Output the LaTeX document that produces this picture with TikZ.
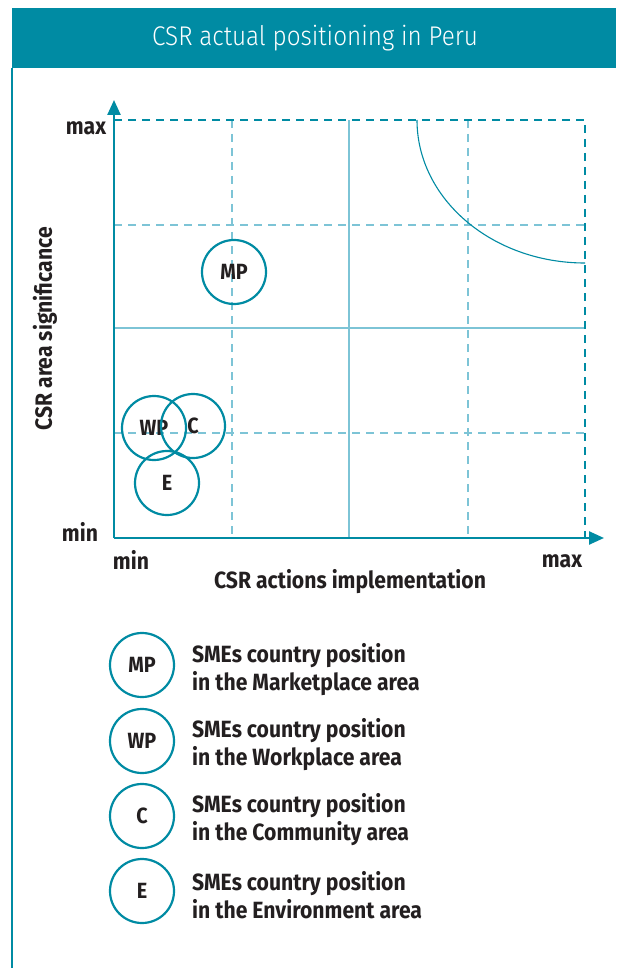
\documentclass[tikz,border=0pt]{standalone}
\usepackage{fontspec}
\setmainfont{Fira Sans}[FakeStretch=0.9]
\newfontfamily\titlefont{Fira Sans Light}[FakeStretch=0.9]
\usetikzlibrary{arrows.meta}
\definecolor{teal1}{HTML}{008BA3}
\definecolor{teallight}{HTML}{7DC4D6}
\definecolor{inkgray}{HTML}{231F20}
\begin{document}
\begin{tikzpicture}[x=1pt,y=-1pt,
  axisline/.style={line width=2.4pt,teal1,-{Triangle[length=15pt,width=13pt]}},
  darkdash/.style={line width=2.4pt,teal1,dash pattern=on 8pt off 6pt},
  lightdash/.style={line width=2pt,teallight,dash pattern=on 8pt off 6pt},
  lightsolid/.style={line width=1.6pt,teallight},
  posbubble/.style={circle,draw=teal1,line width=2.2pt,minimum size=64pt,inner sep=0pt,
    font=\fontsize{22}{22}\selectfont\bfseries,text=inkgray},
  lbl/.style={font=\fontsize{23.5}{24}\selectfont\bfseries,text=inkgray,inner sep=0pt},
  legtext/.style={font=\fontsize{23.5}{28}\selectfont\bfseries,text=inkgray,
    align=left,anchor=west,inner sep=0pt}]
\useasboundingbox (0,0) rectangle (616,968);
\fill[white] (0,0) rectangle (616,968);

% header band and frame
\fill[teal1] (12,8) rectangle (616,68);
\node[text=white,font=\titlefont\fontsize{27}{27}\selectfont] (title) at (315,38) {CSR actual positioning in Peru};
\draw[teal1,line width=1.4pt] (12,68) -- (12,968);

% grid coordinates
\coordinate (o) at (114,538);
\coordinate (ytip) at (114,100);
\coordinate (xtip) at (604,538);
\coordinate (tl) at (114,120);
\coordinate (tr) at (585,120);
\coordinate (br) at (585,538);

% light grid
\draw[lightdash] (232,120) -- (232,538);
\draw[lightdash] (468,120) -- (468,538);
\draw[lightdash] (114,225) -- (585,225);
\draw[lightdash] (114,433) -- (585,433);
\draw[lightsolid] (349,120) -- (349,538);
\draw[lightsolid] (114,328) -- (585,328);

% outer dashed limits
\draw[darkdash] (tl) -- (tr) -- (br);

% frontier arc
\draw[teal1,line width=1.1pt] (417,120) arc[start angle=180,end angle=270,x radius=168,y radius=-143];

% axes
\draw[axisline] (o) -- (ytip);
\draw[axisline] (o) -- (xtip);

% axis labels
\node[lbl] (ymax) at (86,128) {max};
\node[lbl] (ymin) at (80,532) {min};
\node[lbl] (xmin) at (131,560) {min};
\node[lbl] (xmax) at (562,561) {max};
\node[lbl] (xlab) at (350,582) {CSR actions implementation};
\node[lbl,rotate=90] (ylab) at (45,329) {CSR area significance};

% positions
\node[posbubble] (mp) at (234,272) {MP};
\node[posbubble] (wp) at (154,428) {WP};
\node[posbubble] (c) at (193,426) {C};
\node[posbubble] (e) at (167,483) {E};

% legend
\node[posbubble] (lmp) at (142,665) {MP};
\node[posbubble] (lwp) at (142,741) {WP};
\node[posbubble] (lc) at (142,816) {C};
\node[posbubble] (le) at (142,891) {E};
\node[legtext] (tmp) at (192,670) {SMEs country position\\in the Marketplace area};
\node[legtext] (twp) at (192,745) {SMEs country position\\in the Workplace area};
\node[legtext] (tc) at (192,820) {SMEs country position\\in the Community area};
\node[legtext] (te) at (192,895) {SMEs country position\\in the Environment area};
\end{tikzpicture}
\end{document}
